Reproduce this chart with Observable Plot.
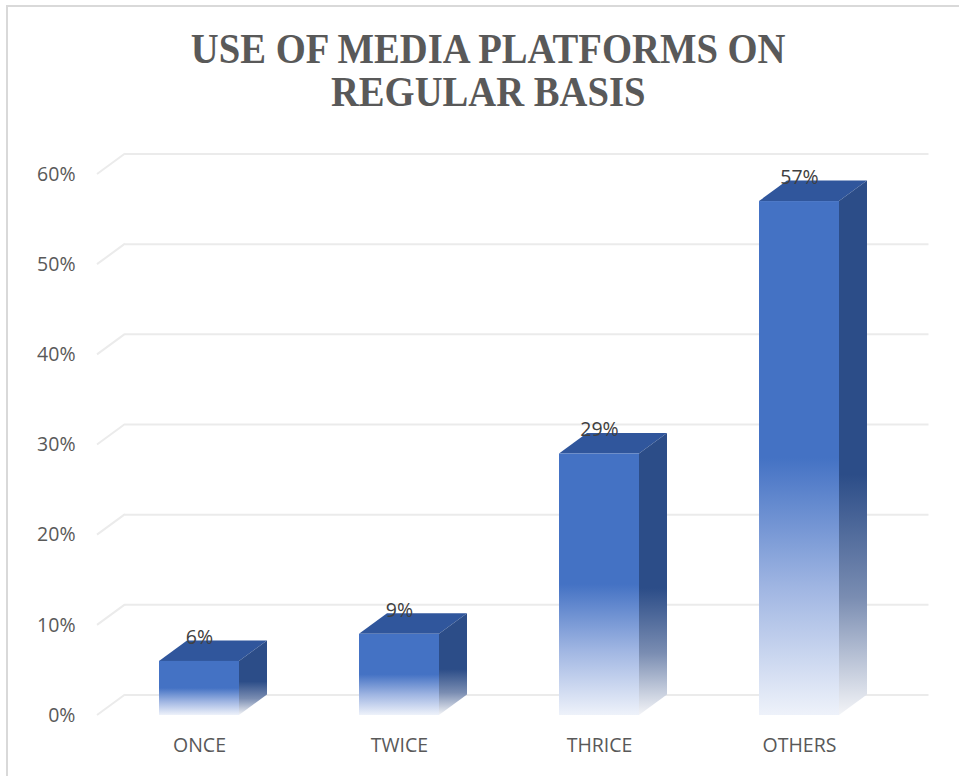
<!DOCTYPE html>
<html>
<head>
<meta charset="utf-8">
<script src="https://cdn.jsdelivr.net/npm/d3@7"></script>
<script src="https://cdn.jsdelivr.net/npm/@observablehq/plot@0.6"></script>
<style>
  html, body { margin: 0; padding: 0; background: #fff; overflow: hidden; width: 959px; height: 776px; }
  #frame { position: absolute; left: 6px; top: 5px; width: 1000px; height: 800px; z-index: 2;
           border-left: 2px solid #d9d9d9; border-top: 2px solid #d9d9d9; box-sizing: border-box; pointer-events: none; }
  #title { position: absolute; left: 0; top: 28px; width: 976px; text-align: center;
           font-family: "Liberation Serif", "Times New Roman", serif; font-weight: bold;
           font-size: 42px; line-height: 43px; color: #595959; }
  #title span { display: inline-block; transform: scaleX(0.92); transform-origin: center; }
  #chart { position: absolute; left: 0; top: 120px; }
</style>
</head>
<body>
<div id="frame"></div>
<div id="title"><span>USE OF MEDIA PLATFORMS ON<br>REGULAR BASIS</span></div>
<div id="chart"></div>
<script>
// How often media platforms are used, share of respondents (%)
const categories = ["ONCE", "TWICE", "THRICE", "OTHERS"];
const shares = [6, 9, 29, 57];
const yTicks = [0, 10, 20, 30, 40, 50, 60];

const data = categories.map((category, i) => ({category, share: shares[i]}));

// Depth of the pseudo-3D extrusion, in pixels
const DX = 28, DY = 20.5;
const gridColor = "#ebebeb";

// Diagonal "floor" part of each gridline, from the front plane back to the wall
function gridDiagonals(index, scales, values, dims) {
  const g = d3.create("svg:g").attr("stroke", gridColor).attr("stroke-width", 2).attr("fill", "none");
  for (const t of yTicks) {
    const yy = scales.y(t);
    g.append("path").attr("d", `M${dims.marginLeft},${yy}L${dims.marginLeft + DX},${yy - DY}`);
  }
  return g.node();
}

// Top and side faces of each column, plus the gradients used by all faces
function columnFaces(index, scales, values, dims) {
  const x = scales.x, y = scales.y;
  const bw = typeof x.bandwidth === "function" ? x.bandwidth() : scales.scales.x.bandwidth;
  const g = d3.create("svg:g");
  const defs = g.append("defs");

  const front = defs.append("linearGradient").attr("id", "frontFade")
    .attr("x1", 0).attr("y1", 0).attr("x2", 0).attr("y2", 1);
  front.append("stop").attr("offset", 0).attr("stop-color", "#4472c4");
  front.append("stop").attr("offset", 0.5).attr("stop-color", "#4472c4");
  front.append("stop").attr("offset", 0.75).attr("stop-color", "#9fb5e2");
  front.append("stop").attr("offset", 1).attr("stop-color", "#eef2fa");

  const side = defs.append("linearGradient").attr("id", "sideFade")
    .attr("x1", 0).attr("y1", 0).attr("x2", 0).attr("y2", 1);
  side.append("stop").attr("offset", 0).attr("stop-color", "#2c4d88");
  side.append("stop").attr("offset", 0.55).attr("stop-color", "#2c4d88");
  side.append("stop").attr("offset", 0.78).attr("stop-color", "#7a8db2");
  side.append("stop").attr("offset", 1).attr("stop-color", "#f3f4f7");

  const y0 = y(0);
  for (const d of data) {
    const x0 = x(d.category), x1 = x0 + bw, yt = y(d.share);
    g.append("path")
      .attr("d", `M${x0},${yt}L${x0 + DX},${yt - DY}L${x1 + DX},${yt - DY}L${x1},${yt}Z`)
      .attr("fill", "#30569c");
    g.append("path")
      .attr("d", `M${x1},${yt}L${x1 + DX},${yt - DY}L${x1 + DX},${y0 - DY}L${x1},${y0}Z`)
      .attr("fill", "url(#sideFade)");
  }
  return g.node();
}

const font = "'Open Sans', sans-serif";

const chart = Plot.plot({
  width: 959,
  height: 656,
  marginLeft: 97,
  marginRight: 58.5,
  marginTop: 54,
  marginBottom: 61,
  style: {fontFamily: font, fontSize: "19.5px", color: "#595959", background: "transparent", overflow: "visible"},
  x: {domain: categories, paddingInner: 0.6, paddingOuter: 0.3, label: null},
  y: {domain: [0, 60], label: null},
  marks: [
    Plot.ruleY(yTicks, {dx: DX, dy: -DY, stroke: gridColor, strokeWidth: 2}),
    gridDiagonals,
    columnFaces,
    Plot.barY(data, {x: "category", y: "share", fill: "url(#frontFade)"}),
    Plot.text(data, {
      x: "category", y: "share", text: d => `${d.share}%`,
      dy: -24, lineAnchor: "middle", fill: "#404040", fontSize: 19.5, fontFamily: font
    }),
    Plot.axisY({ticks: yTicks, tickSize: 0, tickPadding: 22, tickFormat: d => `${d}%`,
                fontSize: 19.5, fontFamily: font, fill: "#595959", label: null}),
    Plot.axisX({tickSize: 0, tickPadding: 23, fontSize: 19.5, fontFamily: font, fill: "#595959", label: null})
  ]
});

document.getElementById("chart").appendChild(chart);
</script>
</body>
</html>
